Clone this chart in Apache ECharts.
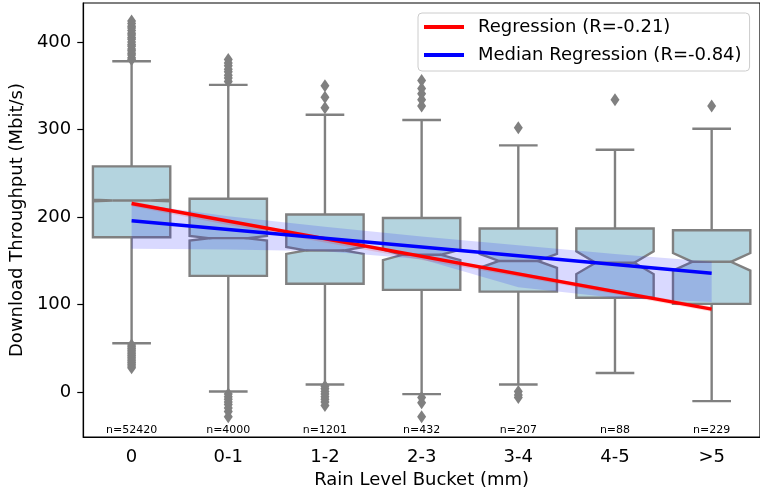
<!DOCTYPE html>
<html>
<head>
<meta charset="utf-8">
<script src="https://cdn.jsdelivr.net/npm/echarts@6/dist/echarts.min.js"></script>
<style>
  html, body { margin: 0; padding: 0; background: #fff; }
  #main { width: 760px; height: 494px; }
</style>
</head>
<body>
<div id="main"></div>
<script>
// rain buckets and sample sizes
const categories = ['0', '0-1', '1-2', '2-3', '3-4', '4-5', '>5'];
const counts = [52420, 4000, 1201, 432, 207, 88, 229];

// box statistics (Mbit/s)
const whiskerLow = [56, 1, 9, -2, 9, 22, -10];
const q1 = [177, 133, 124, 117, 115, 108, 101];
const medians = [219, 176, 162, 157, 150, 148, 149];
const q3 = [258, 221, 203, 199, 187, 187, 185];
const whiskerHigh = [378, 351, 317, 311, 282, 277, 301];
const notchHalf = [0.8, 2.6, 4, 6, 8, 13, 10];

// outliers per bucket
const outliers = [
    [380, 382, 385, 387, 390, 392, 395, 397, 400, 403, 405, 408, 410, 413, 416, 418, 421, 424,
     54, 52, 50, 48, 46, 44, 42, 40, 38, 36, 34, 32, 30, 28],
    [355, 359, 362, 366, 369, 373, 376, 380, -2, -5, -8, -11, -14, -18, -22, -28],
    [325, 337, 350, 7, 4, 1, -2, -5, -8, -11, -15],
    [327, 334, 341, 347, 356, -6, -12, -28],
    [302, 1, -3, -6],
    [334],
    [327]
];

// regression lines (endpoints at first/last bucket) and confidence bands
const regLine = [215.6, 95];
const medRegLine = [196, 136];
const regUpper = [218.5, 196, 176, 156, 137, 117, 98];
const regLower = [212.5, 191, 171, 151, 132, 112, 92];
const medUpper = [216, 201, 189, 178, 168, 158, 149];
const medLower = [164, 163, 161, 152, 120, 108, 103];

const yTicks = [0, 100, 200, 300, 400];

const font = 'DejaVu Sans';
const edge = '#808080';
const boxFill = '#b4d4df';

const boxData = categories.map((c, i) =>
    [i, whiskerLow[i], q1[i], medians[i], q3[i], whiskerHigh[i], notchHalf[i]]);

let outlierData = [];
outliers.forEach((arr, i) => arr.forEach(v => outlierData.push([i, v])));

function renderBox(params, api) {
    const i = api.value(0);
    const bw = api.size([1, 0])[0] * 0.8;
    const cx = api.coord([i, 0])[0];
    const y = v => api.coord([i, v])[1];
    const L = cx - bw / 2, R = cx + bw / 2;
    const med = api.value(3), nh = api.value(6);
    const yq1 = y(api.value(2)), yq3 = y(api.value(4)), ym = y(med);
    const yLo = y(med - nh), yHi = y(med + nh);
    const yw1 = y(api.value(1)), yw2 = y(api.value(5));
    const st = { stroke: edge, lineWidth: 2.4, fill: null };
    return {
        type: 'group',
        children: [
            { type: 'line', shape: { x1: cx, y1: yq3, x2: cx, y2: yw2 }, style: st },
            { type: 'line', shape: { x1: cx, y1: yq1, x2: cx, y2: yw1 }, style: st },
            { type: 'line', shape: { x1: cx - bw / 4, y1: yw2, x2: cx + bw / 4, y2: yw2 }, style: st },
            { type: 'line', shape: { x1: cx - bw / 4, y1: yw1, x2: cx + bw / 4, y2: yw1 }, style: st },
            {
                type: 'polygon',
                shape: { points: [[L, yq3], [R, yq3], [R, yHi], [R - bw / 4, ym], [R, yLo], [R, yq1],
                                  [L, yq1], [L, yLo], [L + bw / 4, ym], [L, yHi]] },
                style: { fill: boxFill, stroke: edge, lineWidth: 2.4, lineJoin: 'miter' }
            },
            { type: 'line', shape: { x1: L + bw / 4, y1: ym, x2: R - bw / 4, y2: ym }, style: st }
        ]
    };
}

function bandRenderer(upper, lower, color) {
    return function (params, api) {
        const pts = [];
        upper.forEach((v, i) => pts.push(api.coord([i, v])));
        for (let i = lower.length - 1; i >= 0; i--) pts.push(api.coord([i, lower[i]]));
        return { type: 'polygon', shape: { points: pts }, style: { fill: color } };
    };
}

const yMin = -51, yMax = 444.5;

const myChart = echarts.init(document.getElementById('main'));
const option = {
    animation: false,
    textStyle: { fontFamily: font },
    grid: { left: 82, right: -3, top: 3, bottom: 57, show: true, borderColor: '#000', borderWidth: 1.2, backgroundColor: 'transparent' },
    legend: {
        data: ['Regression (R=-0.21)', 'Median Regression (R=-0.84)'],
        orient: 'vertical',
        left: 418, top: 13,
        icon: 'rect',
        itemWidth: 40, itemHeight: 4,
        itemGap: 10,
        padding: [5, 8, 7, 6],
        backgroundColor: 'rgba(255,255,255,0.8)',
        borderColor: '#cccccc', borderWidth: 1, borderRadius: 4,
        textStyle: { fontFamily: font, fontSize: 18, color: '#000', padding: [0, 0, 0, 9] }
    },
    xAxis: {
        type: 'category',
        data: categories,
        name: 'Rain Level Bucket (mm)',
        nameLocation: 'middle',
        nameGap: 34,
        nameTextStyle: { fontFamily: font, fontSize: 18, color: '#000' },
        axisLine: { onZero: false, lineStyle: { color: '#000', width: 1.2 } },
        axisTick: { alignWithLabel: true, length: 6, lineStyle: { color: '#000', width: 1.2 } },
        axisLabel: { fontFamily: font, fontSize: 18, color: '#000', margin: 11 },
        splitLine: { show: false }
    },
    yAxis: {
        type: 'value',
        min: yMin, max: yMax,
        name: 'Download Throughput (Mbit/s)',
        nameLocation: 'middle',
        nameGap: 56,
        nameTextStyle: { fontFamily: font, fontSize: 18, color: '#000' },
        axisLine: { show: true, lineStyle: { color: '#000', width: 1.2 } },
        axisTick: { show: true, length: 6, customValues: yTicks, lineStyle: { color: '#000', width: 1.2 } },
        axisLabel: { fontFamily: font, fontSize: 18, color: '#000', margin: 12, customValues: yTicks },
        splitLine: { show: false }
    },
    series: [
        {
            type: 'custom',
            renderItem: renderBox,
            data: boxData,
            encode: { x: 0, y: [1, 2, 3, 4, 5] },
            z: 2
        },
        {
            type: 'scatter',
            data: outlierData,
            symbol: 'diamond',
            symbolSize: [9, 13],
            itemStyle: { color: edge, opacity: 1 },
            z: 3
        },
        {
            type: 'custom',
            renderItem: bandRenderer(medUpper, medLower, 'rgba(0,0,255,0.15)'),
            data: [[0, medUpper[0]]],
            z: 4
        },
        {
            type: 'custom',
            renderItem: bandRenderer(regUpper, regLower, 'rgba(255,0,0,0.15)'),
            data: [[0, regUpper[0]]],
            z: 4
        },
        {
            name: 'Regression (R=-0.21)',
            type: 'line',
            data: [[0, regLine[0]], [categories.length - 1, regLine[1]]],
            showSymbol: false,
            lineStyle: { color: '#ff0000', width: 3.5 },
            itemStyle: { color: '#ff0000' },
            z: 5
        },
        {
            name: 'Median Regression (R=-0.84)',
            type: 'line',
            data: [[0, medRegLine[0]], [categories.length - 1, medRegLine[1]]],
            showSymbol: false,
            lineStyle: { color: '#0000ff', width: 3.5 },
            itemStyle: { color: '#0000ff' },
            z: 5
        },
        {
            type: 'custom',
            renderItem: function (params, api) {
                const p = api.coord([api.value(0), yMin]);
                return {
                    type: 'text',
                    style: {
                        x: p[0], y: p[1] - 1,
                        text: 'n=' + counts[api.value(0)],
                        fontFamily: font, fontSize: 11, fill: '#000',
                        align: 'center', verticalAlign: 'bottom'
                    }
                };
            },
            data: categories.map((c, i) => [i, yMin]),
            z: 6
        }
    ]
};
myChart.setOption(option);
</script>
</body>
</html>
